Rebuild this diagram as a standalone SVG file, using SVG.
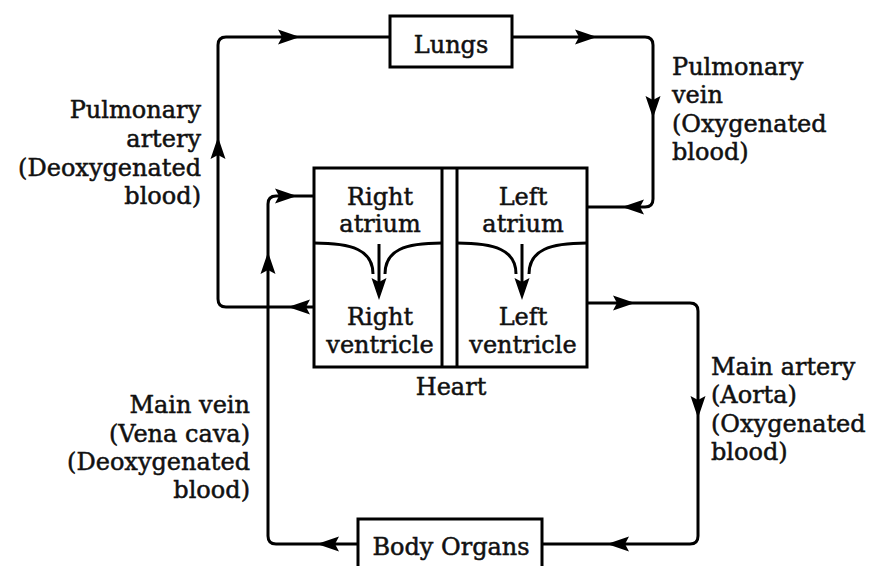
<svg xmlns="http://www.w3.org/2000/svg" xmlns:xlink="http://www.w3.org/1999/xlink" width="871" height="566" viewBox="0 0 871 566">
<style>
.box{fill:#fff;stroke:#000;stroke-width:3}
.ln{fill:none;stroke:#000;stroke-width:3;stroke-linejoin:round}
.t{font-family:"DejaVu Serif","Liberation Serif",serif;font-size:24px;fill:#111;stroke:#111;stroke-width:0.5}
.m{text-anchor:middle}
.e{text-anchor:end}
</style>
<defs>
<path id="ah" d="M0,0 L-22,-7.5 L-18,0 L-22,7.5 Z" fill="#000"/>
</defs>
<rect width="871" height="566" fill="#fff"/>

<g id="connectors">
  <!-- pulmonary artery -->
  <path class="ln" d="M314,307 H226 Q218,307 218,299 V45 Q218,37 226,37 H390"/>
  <use xlink:href="#ah" transform="translate(288,307) rotate(180)"/>
  <use xlink:href="#ah" transform="translate(218,137) rotate(-90)"/>
  <use xlink:href="#ah" transform="translate(300,37)"/>
  <!-- pulmonary vein -->
  <path class="ln" d="M512,37 H645 Q653,37 653,45 V199 Q653,207 645,207 H587"/>
  <use xlink:href="#ah" transform="translate(597,37)"/>
  <use xlink:href="#ah" transform="translate(653,118) rotate(90)"/>
  <use xlink:href="#ah" transform="translate(622,207) rotate(180)"/>
  <!-- aorta -->
  <path class="ln" d="M587,303 H690 Q698,303 698,311 V536 Q698,544 690,544 H542"/>
  <use xlink:href="#ah" transform="translate(635,303)"/>
  <use xlink:href="#ah" transform="translate(698,418) rotate(90)"/>
  <use xlink:href="#ah" transform="translate(607,544) rotate(180)"/>
  <!-- vena cava -->
  <path class="ln" d="M358,544 H276 Q268,544 268,536 V204 Q268,196 276,196 H314"/>
  <use xlink:href="#ah" transform="translate(317,544) rotate(180)"/>
  <use xlink:href="#ah" transform="translate(268,252) rotate(-90)"/>
  <use xlink:href="#ah" transform="translate(297,196)"/>
</g>

<g id="lungs">
  <rect class="box" x="390" y="16" width="122" height="51"/>
  <text class="t m" x="451" y="53">Lungs</text>
</g>

<g id="heart">
  <rect class="box" x="314" y="168" width="273" height="199"/>
  <line class="ln" x1="442" y1="168" x2="442" y2="367"/>
  <line class="ln" x1="457" y1="168" x2="457" y2="367"/>
  <text class="t m" x="451" y="395">Heart</text>
</g>

<g id="right-atrium">
  <text class="t m" x="380" y="205">Right</text>
  <text class="t m" x="380" y="232">atrium</text>
  <path class="ln" d="M314,243 C352,243 373,250 373,274"/>
  <path class="ln" d="M442,243 C405,243 385,250 385,274"/>
  <line class="ln" x1="379" y1="244" x2="379" y2="284"/>
  <use xlink:href="#ah" transform="translate(379,300) rotate(90)"/>
</g>

<g id="right-ventricle">
  <text class="t m" x="380" y="325">Right</text>
  <text class="t m" x="380" y="353">ventricle</text>
</g>

<g id="left-atrium">
  <text class="t m" x="523" y="205">Left</text>
  <text class="t m" x="523" y="232">atrium</text>
  <path class="ln" d="M457,243 C495,243 516,250 516,274"/>
  <path class="ln" d="M587,243 C550,243 529,250 529,274"/>
  <line class="ln" x1="522" y1="244" x2="522" y2="284"/>
  <use xlink:href="#ah" transform="translate(522,300) rotate(90)"/>
</g>

<g id="left-ventricle">
  <text class="t m" x="523" y="325">Left</text>
  <text class="t m" x="523" y="353">ventricle</text>
</g>

<g id="body-organs">
  <rect class="box" x="358" y="519" width="184" height="70"/>
  <text class="t m" x="451" y="555">Body Organs</text>
</g>

<g id="label-pulmonary-artery">
  <text class="t e" x="201" y="118">Pulmonary</text>
  <text class="t e" x="201" y="147">artery</text>
  <text class="t e" x="201" y="176">(Deoxygenated</text>
  <text class="t e" x="201" y="204">blood)</text>
</g>

<g id="label-pulmonary-vein">
  <text class="t" x="672" y="75">Pulmonary</text>
  <text class="t" x="672" y="103">vein</text>
  <text class="t" x="672" y="132">(Oxygenated</text>
  <text class="t" x="672" y="160">blood)</text>
</g>

<g id="label-main-vein">
  <text class="t e" x="250" y="413">Main vein</text>
  <text class="t e" x="250" y="442">(Vena cava)</text>
  <text class="t e" x="250" y="470">(Deoxygenated</text>
  <text class="t e" x="250" y="498">blood)</text>
</g>

<g id="label-main-artery">
  <text class="t" x="711" y="375">Main artery</text>
  <text class="t" x="711" y="403">(Aorta)</text>
  <text class="t" x="711" y="432">(Oxygenated</text>
  <text class="t" x="711" y="460">blood)</text>
</g>
</svg>
